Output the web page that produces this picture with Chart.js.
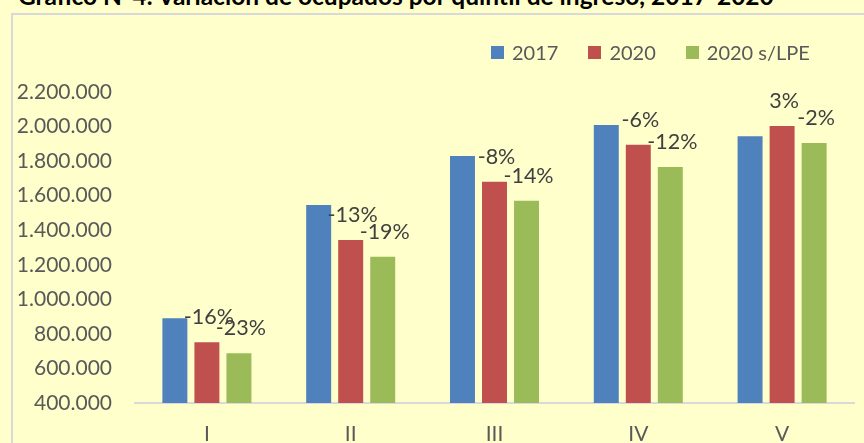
<!DOCTYPE html>
<html>
<head>
<meta charset="utf-8">
<script src="https://cdn.jsdelivr.net/npm/chart.js@4/dist/chart.umd.min.js"></script>
<style>
  html, body { margin: 0; padding: 0; }
  body { width: 864px; height: 443px; background: #FFFFCC; overflow: hidden; position: relative; font-family: Lato, sans-serif; }
  #title { position: absolute; left: 18px; top: -16px; font-size: 24.5px; line-height: 24px; font-weight: bold; color: #000; white-space: nowrap; }
  #frame { position: absolute; left: 11px; top: 13px; width: 900px; height: 500px; border-left: 2px solid #D9D9D9; border-top: 2px solid #D9D9D9; }
  #legend { position: absolute; left: 491px; top: 40px; display: flex; align-items: center; font-size: 20px; color: #595959; }
  #legend .item { display: flex; align-items: center; margin-right: 30px; }
  #legend .sw { width: 13px; height: 13px; margin-right: 8px; }
  #wrap { position: absolute; left: 0; top: 0; width: 864px; height: 443px; }
</style>
</head>
<body>
<div id="title">Gráfico N°4: Variación de ocupados por quintil de ingreso, 2017-2020</div>
<div id="frame"></div>
<div id="wrap"><canvas id="chart" width="864" height="443"></canvas></div>
<div id="legend"></div>
<script>
// Data
const quintiles = ['I', 'II', 'III', 'IV', 'V'];
const seriesNames = ['2017', '2020', '2020 s/LPE'];
const values2017 = [890000, 1546000, 1830000, 2009000, 1944000];
const values2020 = [751000, 1343000, 1681000, 1895000, 2003000];
const values2020sLPE = [688000, 1247000, 1571000, 1766000, 1905000];
const labels2020 = ['-16%', '-13%', '-8%', '-6%', '3%'];
const labels2020sLPE = ['-23%', '-19%', '-14%', '-12%', '-2%'];
const yTicks = [400000, 600000, 800000, 1000000, 1200000, 1400000, 1600000, 1800000, 2000000, 2200000];

const colors = ['#4F81BD', '#C0504D', '#9BBB59'];
const FONT = 'Lato, sans-serif';

function fmt(v) {
    return String(v).replace(/\B(?=(\d{3})+(?!\d))/g, '.');
}

// Legend (HTML)
const legendDiv = document.getElementById('legend');
seriesNames.forEach((name, i) => {
    const item = document.createElement('div');
    item.className = 'item';
    const sw = document.createElement('div');
    sw.className = 'sw';
    sw.style.background = colors[i];
    const txt = document.createElement('span');
    txt.textContent = name;
    item.appendChild(sw);
    item.appendChild(txt);
    legendDiv.appendChild(item);
});

// Percentage labels above the 2020 bars
const pctLabels = {
    id: 'pctLabels',
    afterDatasetsDraw(chart) {
        const ctx = chart.ctx;
        const sets = { 1: labels2020, 2: labels2020sLPE };
        ctx.save();
        ctx.font = '21.5px ' + FONT;
        ctx.fillStyle = '#404040';
        ctx.textAlign = 'center';
        ctx.textBaseline = 'middle';
        Object.keys(sets).forEach(di => {
            const meta = chart.getDatasetMeta(+di);
            meta.data.forEach((bar, i) => {
                ctx.fillText(sets[di][i], bar.x + 2, bar.y - 25);
            });
        });
        ctx.restore();
    }
};

new Chart(document.getElementById('chart'), {
    type: 'bar',
    data: {
        labels: quintiles,
        datasets: [
            { label: seriesNames[0], data: values2017, backgroundColor: colors[0] },
            { label: seriesNames[1], data: values2020, backgroundColor: colors[1] },
            { label: seriesNames[2], data: values2020sLPE, backgroundColor: colors[2] }
        ]
    },
    options: {
        responsive: false,
        animation: false,
        layout: { padding: { left: 0, right: 10, top: 92, bottom: 0 } },
        datasets: {
            bar: { categoryPercentage: 0.668, barPercentage: 0.78 }
        },
        plugins: {
            legend: { display: false },
            tooltip: { enabled: false }
        },
        scales: {
            x: {
                grid: { display: false, drawTicks: false },
                border: { display: true, color: '#D9D9D9', width: 2 },
                ticks: { color: '#595959', font: { family: FONT, size: 21 }, padding: 19 },
                afterFit(scale) { scale.height = 40; }
            },
            y: {
                min: 400000,
                max: 2200000,
                grid: { display: false, drawTicks: false },
                border: { display: false },
                afterBuildTicks(scale) { scale.ticks = yTicks.map(v => ({ value: v })); },
                ticks: {
                    color: '#595959',
                    font: { family: FONT, size: 21 },
                    padding: 23,
                    callback: v => fmt(v)
                },
                afterFit(scale) { scale.width = 135; }
            }
        }
    },
    plugins: [pctLabels]
});
</script>
</body>
</html>
